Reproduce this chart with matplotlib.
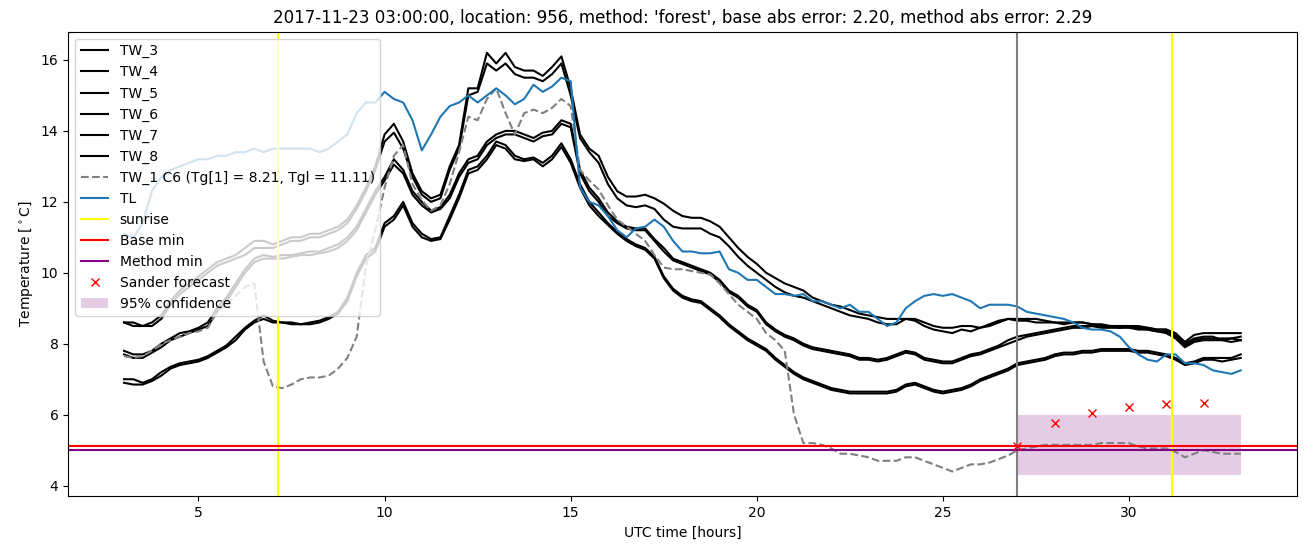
import numpy as np
import matplotlib
matplotlib.use("Agg")
import matplotlib.pyplot as plt

# time axis in hours (UTC), 15 min steps
hours = np.arange(3.0, 33.01, 0.25)

tw_3 = [8.6, 8.6, 8.5, 8.6, 8.8, 9.2, 9.5, 9.7,
        9.9, 10.1, 10.3, 10.4, 10.5, 10.7, 10.9, 10.9,
        10.8, 10.9, 11.0, 11.0, 11.1, 11.1, 11.2, 11.3,
        11.5, 11.9, 12.4, 13.0, 13.9, 14.2, 13.7, 12.8,
        12.3, 12.1, 12.2, 13.0, 13.6, 15.2, 15.2, 16.2,
        15.9, 16.2, 15.8, 15.7, 15.7, 15.55, 15.8, 16.1,
        15.2, 13.9, 13.5, 13.3, 12.7, 12.3, 12.15, 12.15,
        12.2, 12.1, 11.95, 11.75, 11.6, 11.55, 11.55, 11.45,
        11.3, 11.0, 10.7, 10.45, 10.25, 10.0, 9.85, 9.7,
        9.6, 9.5, 9.3, 9.2, 9.1, 9.05, 8.95, 8.85,
        8.8, 8.75, 8.7, 8.7, 8.7, 8.7, 8.6, 8.5,
        8.45, 8.45, 8.5, 8.5, 8.45, 8.55, 8.65, 8.7,
        8.65, 8.65, 8.6, 8.6, 8.6, 8.6, 8.6, 8.6,
        8.55, 8.55, 8.5, 8.5, 8.5, 8.5, 8.45, 8.4,
        8.4, 8.3, 8.05, 8.25, 8.3, 8.3, 8.3, 8.3,
        8.3]
tw_4 = [8.6, 8.5, 8.5, 8.5, 8.7, 9.1, 9.4, 9.6,
        9.8, 10.0, 10.2, 10.3, 10.4, 10.5, 10.7, 10.7,
        10.7, 10.8, 10.9, 10.9, 11.0, 11.0, 11.1, 11.2,
        11.4, 11.8, 12.3, 12.9, 13.7, 13.95, 13.5, 12.7,
        12.2, 12.0, 12.1, 12.9, 13.5, 15.0, 15.1, 15.9,
        15.7, 15.9, 15.6, 15.5, 15.5, 15.4, 15.6, 15.9,
        15.0, 13.8, 13.4, 13.1, 12.5, 12.1, 11.9, 11.85,
        11.9, 11.8, 11.5, 11.3, 11.25, 11.25, 11.25, 11.1,
        11.0, 10.75, 10.45, 10.2, 10.0, 9.8, 9.6, 9.45,
        9.35, 9.3, 9.2, 9.1, 9.0, 8.9, 8.8, 8.75,
        8.7, 8.6, 8.55, 8.55, 8.7, 8.65, 8.5, 8.4,
        8.35, 8.3, 8.4, 8.35, 8.45, 8.5, 8.6, 8.7,
        8.7, 8.7, 8.7, 8.65, 8.6, 8.55, 8.6, 8.6,
        8.55, 8.5, 8.5, 8.45, 8.5, 8.45, 8.4, 8.35,
        8.35, 8.2, 8.0, 8.15, 8.2, 8.2, 8.1, 8.15,
        8.1]
tw_5 = [7.8, 7.7, 7.7, 7.8, 8.0, 8.15, 8.3, 8.35,
        8.45, 8.6, 9.0, 9.3, 9.7, 10.1, 10.4, 10.5,
        10.45, 10.5, 10.5, 10.55, 10.6, 10.6, 10.7, 10.8,
        11.0, 11.3, 11.8, 12.3, 12.7, 13.2, 12.9, 12.3,
        12.0, 11.75, 11.85, 12.2, 12.8, 13.2, 13.3, 13.7,
        13.9, 14.0, 14.0, 13.9, 13.8, 13.95, 14.0, 14.3,
        14.2, 12.9, 12.4, 12.1, 11.7, 11.45, 11.3, 11.25,
        11.25, 10.95, 10.7, 10.4, 10.3, 10.2, 10.1, 10.0,
        9.8, 9.5, 9.35, 9.1, 8.95, 8.6, 8.4, 8.25,
        8.15, 8.0, 7.9, 7.85, 7.8, 7.75, 7.7, 7.6,
        7.6, 7.55, 7.6, 7.7, 7.8, 7.75, 7.6, 7.55,
        7.5, 7.5, 7.6, 7.7, 7.75, 7.85, 7.95, 8.1,
        8.2, 8.25, 8.3, 8.35, 8.4, 8.45, 8.5, 8.5,
        8.5, 8.5, 8.5, 8.5, 8.5, 8.45, 8.45, 8.4,
        8.4, 8.25, 7.95, 8.1, 8.15, 8.15, 8.15, 8.15,
        8.2]
tw_6 = [7.7, 7.6, 7.6, 7.75, 7.9, 8.1, 8.2, 8.3,
        8.4, 8.5, 8.9, 9.2, 9.6, 10.0, 10.3, 10.4,
        10.4, 10.4, 10.45, 10.5, 10.5, 10.55, 10.6, 10.7,
        10.9, 11.2, 11.7, 12.2, 12.6, 13.05, 12.8, 12.2,
        11.9, 11.7, 11.8, 12.1, 12.7, 13.1, 13.2, 13.6,
        13.8, 13.9, 13.9, 13.8, 13.7, 13.85, 13.9, 14.2,
        14.1, 12.8, 12.3, 12.0, 11.6, 11.4, 11.25, 11.2,
        11.2, 10.9, 10.6, 10.35, 10.25, 10.15, 10.05, 9.95,
        9.75, 9.45, 9.3, 9.05, 8.9, 8.55, 8.35, 8.2,
        8.1, 7.95, 7.85, 7.8, 7.75, 7.7, 7.65, 7.55,
        7.55, 7.5, 7.55, 7.65, 7.75, 7.7, 7.55, 7.5,
        7.45, 7.45, 7.55, 7.65, 7.7, 7.8, 7.9, 8.0,
        8.1, 8.2, 8.25, 8.3, 8.35, 8.4, 8.45, 8.45,
        8.5, 8.45, 8.45, 8.45, 8.45, 8.4, 8.4, 8.35,
        8.3, 8.15, 7.9, 8.05, 8.1, 8.1, 8.1, 8.05,
        8.1]
tw_7 = [7.0, 7.0, 6.9, 7.0, 7.2, 7.35, 7.45, 7.5,
        7.55, 7.65, 7.8, 7.95, 8.2, 8.45, 8.65, 8.8,
        8.65, 8.6, 8.6, 8.55, 8.6, 8.65, 8.75, 8.9,
        9.3, 10.0, 10.5, 10.7, 11.4, 11.6, 12.0, 11.4,
        11.1, 10.95, 11.0, 11.6, 12.2, 12.9, 13.0, 13.3,
        13.7, 13.6, 13.3, 13.2, 13.25, 13.1, 13.3, 13.65,
        13.2, 12.5, 12.0, 11.7, 11.4, 11.15, 10.95, 10.8,
        10.7, 10.45, 9.9, 9.55, 9.35, 9.25, 9.2, 9.0,
        8.8, 8.55, 8.35, 8.15, 8.0, 7.85, 7.6, 7.4,
        7.2, 7.05, 6.95, 6.85, 6.75, 6.7, 6.65, 6.65,
        6.65, 6.65, 6.65, 6.7, 6.85, 6.9, 6.8, 6.7,
        6.65, 6.7, 6.75, 6.85, 7.0, 7.1, 7.2, 7.3,
        7.45, 7.5, 7.55, 7.6, 7.7, 7.75, 7.75, 7.8,
        7.8, 7.85, 7.85, 7.85, 7.85, 7.8, 7.8, 7.75,
        7.7, 7.6, 7.45, 7.5, 7.6, 7.6, 7.6, 7.6,
        7.7]
tw_8 = [6.9, 6.85, 6.85, 6.95, 7.1, 7.3, 7.4, 7.45,
        7.5, 7.6, 7.75, 7.9, 8.1, 8.4, 8.6, 8.7,
        8.6, 8.6, 8.55, 8.55, 8.55, 8.6, 8.7, 8.85,
        9.2, 9.9, 10.4, 10.6, 11.3, 11.5, 11.9, 11.3,
        11.0, 10.9, 10.95, 11.5, 12.1, 12.8, 12.9, 13.2,
        13.6, 13.5, 13.2, 13.15, 13.2, 13.0, 13.2, 13.55,
        13.1, 12.4, 11.9, 11.6, 11.35, 11.1, 10.9, 10.75,
        10.65, 10.4, 9.85, 9.5, 9.3, 9.2, 9.15, 8.95,
        8.75, 8.5, 8.3, 8.1, 7.95, 7.8, 7.55, 7.35,
        7.15, 7.0, 6.9, 6.8, 6.7, 6.65, 6.6, 6.6,
        6.6, 6.6, 6.6, 6.65, 6.8, 6.85, 6.75, 6.65,
        6.6, 6.65, 6.7, 6.8, 6.95, 7.05, 7.15, 7.25,
        7.4, 7.45, 7.5, 7.55, 7.65, 7.7, 7.7, 7.75,
        7.75, 7.8, 7.8, 7.8, 7.8, 7.75, 7.75, 7.7,
        7.65, 7.55, 7.4, 7.45, 7.55, 7.55, 7.5, 7.55,
        7.6]
tw_1 = [7.65, 7.6, 7.65, 7.8, 8.0, 8.1, 8.2, 8.3,
        8.35, 8.45, 8.9, 9.1, 9.35, 9.6, 9.7, 7.5,
        6.8, 6.75, 6.85, 7.0, 7.05, 7.05, 7.1, 7.3,
        7.6, 8.2, 10.2, 11.2, 12.4, 13.3, 13.6, 12.5,
        12.05, 11.75, 11.9, 12.5, 13.4, 14.4, 14.3, 14.9,
        15.2, 14.5, 13.9, 14.5, 14.6, 14.5, 14.65, 14.9,
        14.7, 12.9, 12.6, 12.35, 11.9, 11.5, 11.3, 11.1,
        10.9, 10.5, 10.15, 10.1, 10.1, 10.05, 10.0, 9.95,
        9.7, 9.4, 9.1, 8.9, 8.7, 8.3, 8.1, 7.8,
        6.0, 5.2, 5.2, 5.15, 5.05, 4.9, 4.9, 4.85,
        4.8, 4.7, 4.7, 4.7, 4.8, 4.8, 4.7, 4.6,
        4.5, 4.4, 4.5, 4.6, 4.6, 4.65, 4.75, 4.85,
        5.0, 5.05, 5.1, 5.15, 5.15, 5.15, 5.15, 5.15,
        5.15, 5.2, 5.2, 5.2, 5.2, 5.1, 5.05, 5.05,
        5.05, 4.95, 4.8, 4.9, 5.0, 4.95, 4.9, 4.9,
        4.9]
tl = [11.1, 11.0, 11.4, 12.3, 12.7, 12.9, 13.0, 13.1,
      13.2, 13.2, 13.3, 13.3, 13.4, 13.4, 13.5, 13.4,
      13.5, 13.5, 13.5, 13.5, 13.5, 13.4, 13.5, 13.7,
      13.9, 14.5, 14.8, 14.8, 15.1, 14.9, 14.8, 14.3,
      13.45, 13.9, 14.4, 14.7, 14.8, 15.0, 14.8, 15.0,
      15.2, 15.0, 14.75, 14.9, 15.3, 15.1, 15.25, 15.5,
      15.4, 12.4, 12.0, 11.9, 11.6, 11.2, 11.0, 11.25,
      11.3, 11.5, 11.3, 10.9, 10.6, 10.6, 10.55, 10.55,
      10.6, 10.1, 10.0, 9.8, 9.8, 9.6, 9.4, 9.4,
      9.35, 9.4, 9.2, 9.2, 9.1, 9.0, 9.1, 8.9,
      8.9, 8.7, 8.5, 8.6, 9.0, 9.2, 9.35, 9.4,
      9.35, 9.4, 9.3, 9.2, 9.0, 9.1, 9.1, 9.1,
      9.05, 8.9, 8.85, 8.8, 8.75, 8.7, 8.6, 8.45,
      8.4, 8.4, 8.35, 8.2, 7.9, 7.7, 7.55, 7.5,
      7.7, 7.7, 7.45, 7.45, 7.4, 7.25, 7.2, 7.15,
      7.25]

tw_labels = ["TW_3", "TW_4", "TW_5", "TW_6", "TW_7", "TW_8"]
tw1_label = "TW_1 C6 (Tg[1] = 8.21, Tgl = 11.11)"

sunrise_hours = [7.15, 31.15]
forecast_start = 27
base_min = 5.13
method_min = 5.0

sander_hours = [27, 28, 29, 30, 31, 32]
sander_temp = [5.13, 5.76, 6.05, 6.23, 6.29, 6.34]

conf_hours = [27, 33]
conf_low = [4.3, 4.3]
conf_high = [5.98, 5.98]

title = ("2017-11-23 03:00:00, location: 956, method: 'forest', "
         "base abs error: 2.20, method abs error: 2.29")


def main():
    fig = plt.figure(figsize=(13.11, 5.47), dpi=100)
    ax = fig.add_axes([0.052, 0.093, 0.937, 0.849])

    for vals, lab in zip([tw_3, tw_4, tw_5, tw_6, tw_7, tw_8], tw_labels):
        ax.plot(hours, vals, color="black", label=lab)
    ax.plot(hours, tw_1, color="gray", linestyle="--", label=tw1_label)
    ax.plot(hours, tl, color="C0", label="TL")

    ax.axvline(sunrise_hours[0], color="yellow", label="sunrise")
    ax.axvline(sunrise_hours[1], color="yellow")
    ax.axvline(forecast_start, color="gray")
    ax.axhline(base_min, color="red", label="Base min")
    ax.axhline(method_min, color="purple", label="Method min")
    ax.plot(sander_hours, sander_temp, "x", color="red", linestyle="none",
            label="Sander forecast")
    ax.fill_between(conf_hours, conf_low, conf_high, color="purple",
                    alpha=0.2, linewidth=0, label="95% confidence")

    ax.set_title(title)
    ax.set_xlabel("UTC time [hours]")
    ax.set_ylabel(r"Temperature [$^\circ$C]")
    ax.legend(loc="upper left")

    fig.savefig("out.png", dpi=100)


if __name__ == "__main__":
    main()
